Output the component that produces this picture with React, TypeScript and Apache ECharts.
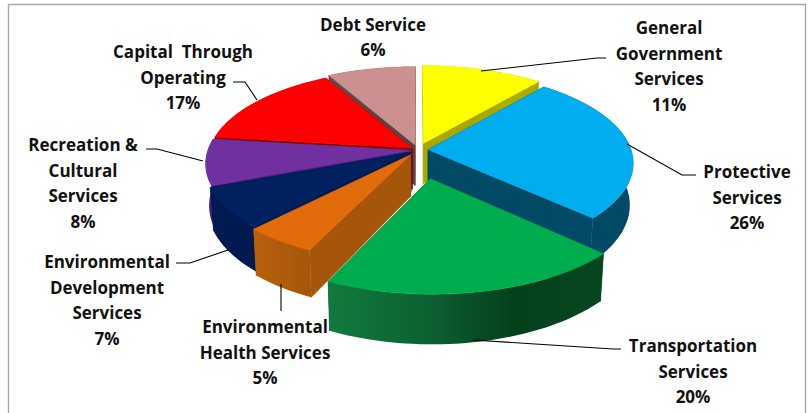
import React, { useEffect, useRef } from "react";
import * as echarts from "echarts";

// Clockwise from 12 o'clock.
const categories = [
  "General\nGovernment\nServices",
  "Protective\nServices",
  "Transportation\nServices",
  "Environmental\nHealth Services",
  "Environmental\nDevelopment\nServices",
  "Recreation &\nCultural\nServices",
  "Capital  Through\nOperating",
  "Debt Service",
];
// Printed percentages of the labels.
const percentLabels = ["11%", "26%", "20%", "5%", "7%", "8%", "17%", "6%"];
// Slice sizes as they are drawn in the picture.
const drawnShares = [11, 26, 20, 5, 7, 8, 15, 8];

// ---- styling and layout (not data) ----
const topColors = ["#ffff00", "#00aeef", "#00ad4e", "#e26b0a", "#002060", "#7030a0", "#ff0000", "#cc9090"];
const wallStops: string[][] = [
  ["#b5b500", "#a8a800"],
  ["#004a66", "#004a66"],
  ["#127a3e", "#0c6332", "#05401d", "#084620"],
  ["#b8600d", "#a5560b"],
  ["#001b52", "#001a4e"],
  ["#5a2684", "#4c2070"],
  ["#8a0000", "#7a0000"],
  ["#664848", "#5c4242"],
];
const explodeBy = [0.08, 0.05, 0.31, 0.065, 0.045, 0.035, 0.035, 0.06];
const paintOrder = [7, 0, 6, 5, 1, 4, 3, 2];
const CX = 418, CY = 150, R = 203, KY = 0.445, PERSP = 0.14, DEPTH = 41;

const labelCenters: number[][] = [
  [669, 66], [747, 197], [693, 371], [265, 352], [107, 300], [83, 183], [183, 77], [373, 37],
];
const leaders: number[][][] = [
  [[481, 71], [597, 58], [606, 58]],
  [[627, 144], [682, 175], [696, 175]],
  [[473, 340], [613, 349], [621, 349]],
  [[281, 284], [281, 311]],
  [[228, 250], [190, 263], [176, 263]],
  [[203, 161], [157, 149], [146, 149]],
  [[257, 100], [245, 82], [233, 82]],
];

function project(X: number, Y: number, z: number): number[] {
  const s = 1 / (1 - PERSP * Y);
  const shrink = 1 - 0.016 * z;
  return [CX + X * R * s * shrink, CY + Y * R * KY * s + z * DEPTH * s];
}

function renderSlice(_params: any, api: any) {
  const a0 = api.value(0) as number;
  const a1 = api.value(1) as number;
  const idx = api.value(2) as number;
  const mid = (a0 + a1) / 2;
  const ox = Math.sin(mid) * explodeBy[idx];
  const oy = -Math.cos(mid) * explodeBy[idx];
  const n = Math.max(2, Math.ceil((a1 - a0) / 0.03));
  const rim: number[][] = [];
  for (let i = 0; i <= n; i++) {
    const a = a0 + ((a1 - a0) * i) / n;
    rim.push([ox + Math.sin(a), oy - Math.cos(a)]);
  }
  const up = (p: number[]) => project(p[0], p[1], 0);
  const down = (p: number[]) => project(p[0], p[1], 1);
  const apex = [ox, oy];
  const first = rim[0];
  const last = rim[rim.length - 1];
  const stops = wallStops[idx];
  const wallFill = new echarts.graphic.LinearGradient(
    0, 0, 1, 0,
    stops.map((color, i) => ({ offset: i / (stops.length - 1), color })),
  );
  const flat = stops[stops.length - 1];
  const poly = (points: number[][], fill: any, stroke: string) => ({
    type: "polygon",
    shape: { points },
    style: { fill, stroke, lineWidth: 0.6 },
  });
  const wallFirst = poly([up(apex), up(first), down(first), down(apex)], flat, flat);
  const wallLast = poly([up(apex), up(last), down(last), down(apex)], flat, flat);
  // The cut face that turns towards the viewer is painted after the one that turns away.
  const walls = Math.sin(a1) > 0 ? [wallFirst, wallLast] : [wallLast, wallFirst];
  return {
    type: "group",
    children: [
      ...walls,
      poly([...rim.map(up), ...rim.slice().reverse().map(down)], wallFill, "transparent"),
      poly([up(apex), ...rim.map(up)], topColors[idx], topColors[idx]),
    ],
  };
}

export default function App() {
  const ref = useRef<HTMLDivElement>(null);
  useEffect(() => {
    document.body.style.margin = "0";
    const chart = echarts.init(ref.current!, undefined, { renderer: "svg" });
    const total = drawnShares.reduce((a, b) => a + b, 0);
    const starts: number[] = [];
    let run = 0;
    drawnShares.forEach((v) => {
      starts.push(run);
      run += v;
    });
    const toAngle = (v: number) => (v / total) * Math.PI * 2;

    const texts = categories.map((c, i) => ({
      type: "text",
      x: labelCenters[i][0],
      y: labelCenters[i][1],
      z: 20,
      style: {
        text: `${c}\n${percentLabels[i]}`,
        font: "bold 17px 'Open Sans'",
        fill: "#111111",
        textAlign: "center",
        textVerticalAlign: "middle",
        lineHeight: 25.4,
      },
    }));
    const lines = leaders.map((points) => ({
      type: "polyline",
      z: 19,
      shape: { points },
      style: { stroke: "#000000", lineWidth: 1.1, fill: "none" },
    }));

    chart.setOption({
      animation: false,
      backgroundColor: "#ffffff",
      series: [
        {
          type: "custom",
          coordinateSystem: "none",
          silent: true,
          z: 2,
          renderItem: renderSlice,
          data: paintOrder.map((i) => [
            toAngle(starts[i]),
            toAngle(starts[i] + drawnShares[i]),
            i,
          ]),
        },
      ],
      graphic: {
        elements: [
          {
            type: "polyline",
            z: 1,
            shape: { points: [[8.5, 413], [8.5, 4.5], [805.5, 4.5], [805.5, 413]] },
            style: { stroke: "#a6a6a6", lineWidth: 1.4, fill: "none" },
          },
          ...lines,
          ...texts,
        ],
      },
    });
    return () => chart.dispose();
  }, []);
  return <div ref={ref} style={{ width: 809, height: 413 }} />;
}
